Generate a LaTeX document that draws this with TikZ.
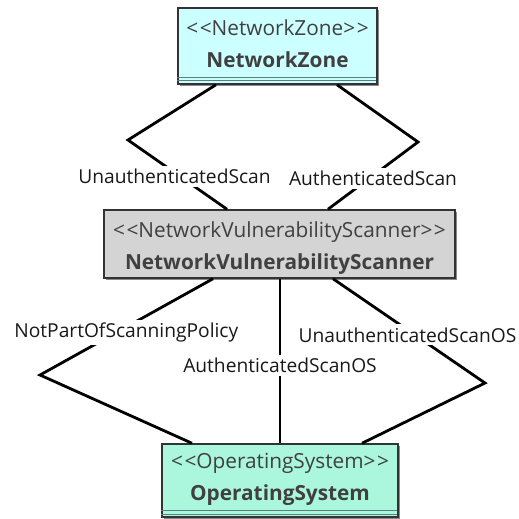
\documentclass[tikz,border=0pt]{standalone}
\usepackage{fontspec}
\setmainfont{Open Sans}
\newcommand{\lguil}{<\kern1.5pt<}
\newcommand{\rguil}{>\kern1.5pt>}
\begin{document}
\begin{tikzpicture}[x=1pt,y=-1pt,
  classbox/.style={draw=boxline, line width=1.5pt, rectangle, inner sep=0pt},
  sepline/.style={draw=sepgray, line width=0.9pt},
  assoc/.style={line width=2.8pt, line join=miter, black},
  lbl/.style={fill=white, inner sep=3pt, font=\fontsize{19.2}{21}\selectfont, text=black!90},
  stereo/.style={font=\fontsize{20.8}{23}\selectfont, text=textgray},
  cname/.style={font=\fontsize{20.8}{23}\selectfont\bfseries, text=textgray}]
\definecolor{boxline}{HTML}{333333}
\definecolor{sepgray}{HTML}{5E7E7A}
\definecolor{shadowgray}{HTML}{8A8A8A}
\definecolor{textgray}{HTML}{404040}
\definecolor{zonefill}{HTML}{CCFFFF}
\definecolor{scanfill}{HTML}{D4D4D4}
\definecolor{osfill}{HTML}{AAF7DD}
\useasboundingbox (0,0) rectangle (519,519);

% shadows
\fill[shadowgray] (180,10) rectangle (379,86);
\fill[shadowgray] (106,212) rectangle (457,280);
\fill[shadowgray] (164,446) rectangle (400,519);

% class boxes
\node[classbox, fill=zonefill, minimum width=199pt, minimum height=76pt] (nz) at (277.5,46) {};
\node[classbox, fill=scanfill, minimum width=351pt, minimum height=68pt] (nvs) at (279.5,244) {};
\node[classbox, fill=osfill, minimum width=236pt, minimum height=73pt] (os) at (280,480.5) {};

% compartment separators
\draw[sepline] (nz.south west) ++(0,-7.5) -- ++(199,0);
\draw[sepline] (nz.south west) ++(0,-4) -- ++(199,0);
\draw[sepline] (os.south west) ++(0,-7) -- ++(236,0);
\draw[sepline] (os.south west) ++(0,-3.5) -- ++(236,0);

% box texts
\node[stereo] (nzs) at (277.5,28) {\lguil NetworkZone\rguil};
\node[cname] (nzn) at (277.5,60) {NetworkZone};
\node[stereo] (nvss) at (279.5,232) {\lguil NetworkVulnerabilityScanner\rguil};
\node[cname] (nvsn) at (279.5,264) {NetworkVulnerabilityScanner};
\node[stereo] (oss) at (280,463) {\lguil OperatingSystem\rguil};
\node[cname] (osn) at (280,495) {OperatingSystem};

% bend points
\coordinate (b1) at (128,140);
\coordinate (b2) at (418,142);
\coordinate (b3) at (40,375);
\coordinate (b4) at (485,383);

% associations
\draw[assoc] ([xshift=-61.5pt]nz.south) -- (b1) -- ([xshift=-52.5pt]nvs.north)
  node[lbl, pos=0.47, yshift=-4pt] {UnauthenticatedScan};
\draw[assoc] ([xshift=59.5pt]nz.south) -- (b2) -- ([xshift=48.5pt]nvs.north)
  node[lbl, pos=0.5, yshift=-3pt] {AuthenticatedScan};
\draw[assoc] ([xshift=-66.5pt]nvs.south) -- (b3)
  node[lbl, pos=0.53, xshift=5pt, yshift=-3pt] {NotPartOfScanningPolicy} -- ([xshift=-88pt]os.north);
\draw[assoc] ([xshift=0.5pt]nvs.south) -- ([xshift=0pt]os.north)
  node[lbl, pos=0.51, yshift=-3pt] {AuthenticatedScanOS};
\draw[assoc] ([xshift=53.5pt]nvs.south) -- (b4)
  node[lbl, pos=0.49, yshift=-5pt] {UnauthenticatedScanOS} -- ([xshift=82pt]os.north);
\end{tikzpicture}
\end{document}
